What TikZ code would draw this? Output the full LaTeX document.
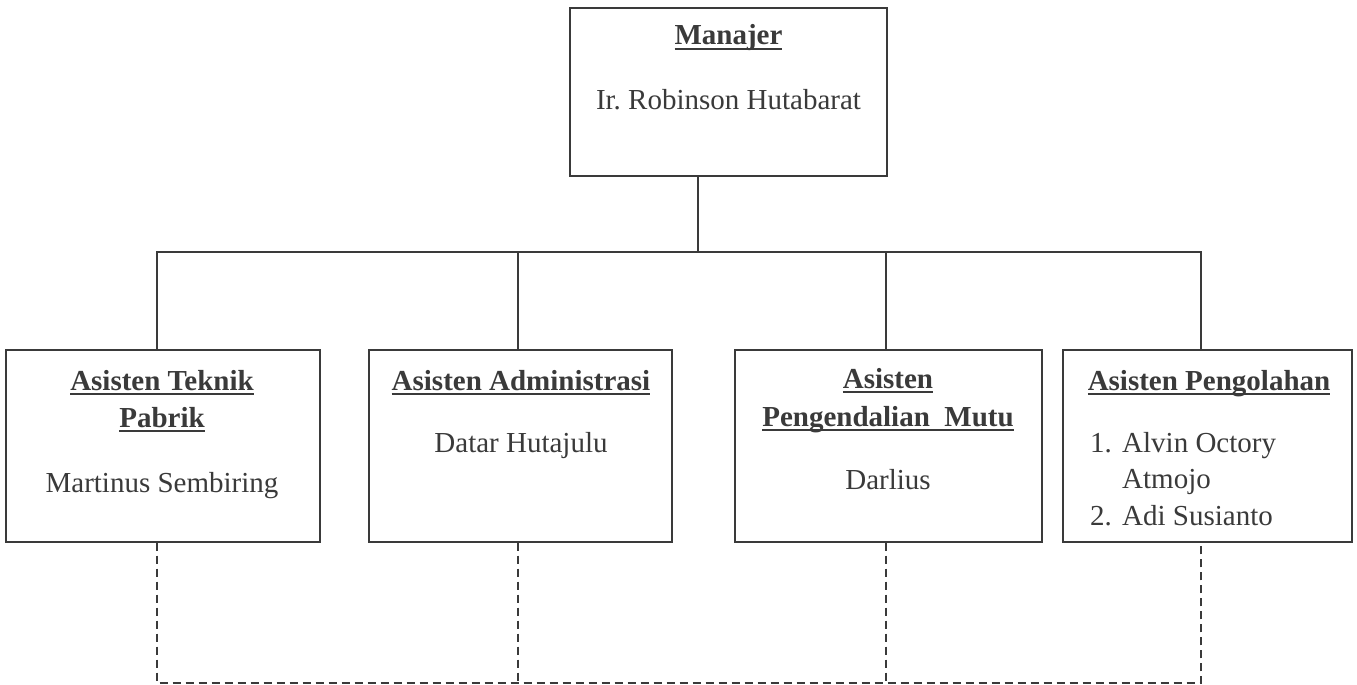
\documentclass[tikz,border=0pt]{standalone}
\usepackage{fontspec}
\setmainfont{Liberation Serif}
\frenchspacing
\newcommand{\myul}[1]{\setbox0\hbox{#1}\rlap{\rule[-5pt]{\wd0}{1.8pt}}\box0}
\definecolor{ink}{HTML}{3A3A3A}
\begin{document}
\begin{tikzpicture}[x=1pt,y=-1pt,
  box/.style={draw=ink,line width=1.3pt,rectangle,inner sep=0pt,fill=white},
  conn/.style={draw=ink,line width=1.3pt},
  dconn/.style={draw=ink,line width=1.3pt,dash pattern=on 8pt off 5pt},
  txt/.style={anchor=base,inner sep=0pt,text=ink,font=\fontsize{29}{36.5}\selectfont},
  ttl/.style={txt,font=\fontsize{29}{36.5}\selectfont\bfseries}]
\useasboundingbox (0,0) rectangle (1357,685);
% boxes
\node[box,minimum width=317pt,minimum height=168pt] (m) at (728.5,92) {};
\node[box,minimum width=314pt,minimum height=192pt] (a1) at (163,446) {};
\node[box,minimum width=303pt,minimum height=192pt] (a2) at (520.5,446) {};
\node[box,minimum width=307pt,minimum height=192pt] (a3) at (888.5,446) {};
\node[box,minimum width=289pt,minimum height=192pt] (a4) at (1207.5,446) {};
% connector coordinates
\coordinate (mx) at (698,252);
\coordinate (b1) at (157,252);
\coordinate (b2) at (518,252);
\coordinate (b3) at (886,252);
\coordinate (b4) at (1201,252);
\coordinate (d1) at (157,683);
\coordinate (d2) at (518,683);
\coordinate (d3) at (886,683);
\coordinate (d4) at (1201,683);
% solid connectors
\draw[conn] (m.south -| mx) -- (mx);
\draw[conn] (b1 |- a1.north) -- (b1) -- (b4) -- (b4 |- a4.north);
\draw[conn] (b2) -- (b2 |- a2.north);
\draw[conn] (b3) -- (b3 |- a3.north);
% dashed connectors
\draw[dconn] (d1 |- a1.south) -- (d1) -- (d4) -- (d4 |- a4.south);
\draw[dconn] (d2 |- a2.south) -- (d2);
\draw[dconn] (d3 |- a3.south) -- (d3);
% texts
\node[ttl] (mt) at (728.5,45) {\myul{Manajer}};
\node[txt] (mn) at (728.5,110) {Ir. Robinson Hutabarat};
\node[ttl] (t1a) at (162,390) {\myul{Asisten Teknik}};
\node[ttl] (t1b) at (162,427) {\myul{Pabrik}};
\node[txt] (n1) at (162,492) {Martinus Sembiring};
\node[ttl] (t2) at (521,390) {\myul{Asisten Administrasi}};
\node[txt] (n2) at (521,452) {Datar Hutajulu};
\node[ttl] (t3a) at (888,388) {\myul{Asisten}};
\node[ttl] (t3b) at (888,426) {\myul{Pengendalian\ \ Mutu}};
\node[txt] (n3) at (888,489) {Darlius};
\node[ttl] (t4) at (1209,390) {\myul{Asisten Pengolahan}};
\node[txt,anchor=base west] (l1n) at (1090,452) {1.};
\node[txt,anchor=base west] (l1) at (1122,452) {Alvin Octory};
\node[txt,anchor=base west] (l1c) at (1122,488) {Atmojo};
\node[txt,anchor=base west] (l2n) at (1090,525) {2.};
\node[txt,anchor=base west] (l2) at (1122,525) {Adi Susianto};
\end{tikzpicture}
\end{document}
